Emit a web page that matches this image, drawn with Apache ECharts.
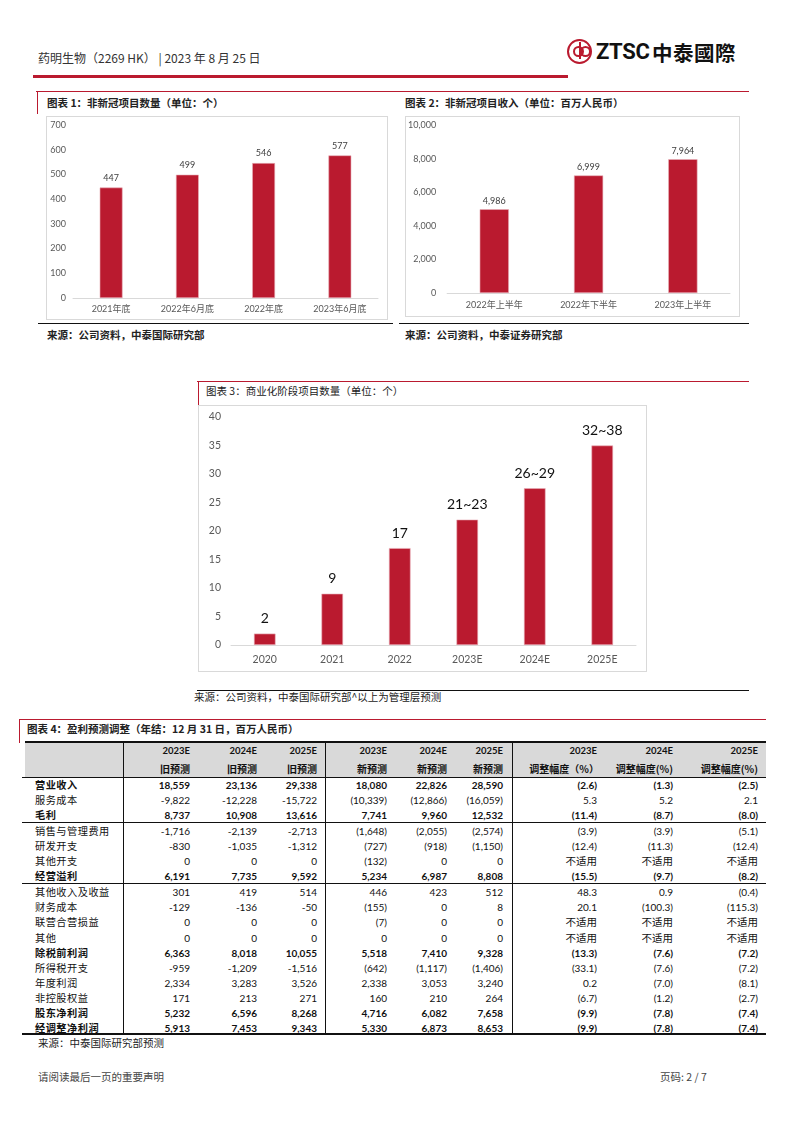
<!DOCTYPE html>
<html><head><meta charset="utf-8">
<script src="https://cdn.jsdelivr.net/npm/echarts@6/dist/echarts.min.js"></script>
<style>
body{margin:0;width:793px;height:1122px;position:relative;background:#fff;font-family:"Noto Sans CJK SC",sans-serif;overflow:hidden;color:#222}
.t{position:absolute;white-space:nowrap;line-height:1;transform:translateY(-50%)}
.r{position:absolute;white-space:nowrap;line-height:1;transform:translate(-100%,-50%)}
.ln{position:absolute}
.box{position:absolute;border:1px solid #d9d9d9;box-sizing:border-box}
.ch{position:absolute}
.ttl{font-size:10.5px;font-weight:700;color:#222}
.src{font-size:10.5px;font-weight:700;color:#222}
</style></head>
<body>
<div id="page"></div>
<script>
// ---------- data ----------
const chart1Categories = ['2021年底','2022年6月底','2022年底','2023年6月底'];
const chart1Values = [447, 499, 546, 577];
const chart1Ticks = {min:0, max:700, interval:100};

const chart2Categories = ['2022年上半年','2022年下半年','2023年上半年'];
const chart2Values = [4986, 6999, 7964];
const chart2Ticks = {min:0, max:10000, interval:2000};

const chart3Categories = ['2020','2021','2022','2023E','2024E','2025E'];
const chart3Values = [2, 9, 17, 22, 27.5, 35];
const chart3Labels = ['2','9','17','21~23','26~29','32~38'];
const chart3Ticks = {min:0, max:40, interval:5};

const tableYears = ['2023E','2024E','2025E','2023E','2024E','2025E','2023E','2024E','2025E'];
const tableSubHeads = ['旧预测','旧预测','旧预测','新预测','新预测','新预测','调整幅度（%）','调整幅度(%)','调整幅度(%)'];
const rowLabels = ['营业收入','服务成本','毛利','销售与管理费用','研发开支','其他开支','经营溢利','其他收入及收益','财务成本','联营合营损益','其他','除税前利润','所得税开支','年度利润','非控股权益','股东净利润','经调整净利润'];
const boldRows = [0,2,6,11,15,16];
const oldForecast = [
 ['18,559','23,136','29,338'],['-9,822','-12,228','-15,722'],['8,737','10,908','13,616'],
 ['-1,716','-2,139','-2,713'],['-830','-1,035','-1,312'],['0','0','0'],['6,191','7,735','9,592'],
 ['301','419','514'],['-129','-136','-50'],['0','0','0'],['0','0','0'],['6,363','8,018','10,055'],
 ['-959','-1,209','-1,516'],['2,334','3,283','3,526'],['171','213','271'],['5,232','6,596','8,268'],['5,913','7,453','9,343']];
const newForecast = [
 ['18,080','22,826','28,590'],['(10,339)','(12,866)','(16,059)'],['7,741','9,960','12,532'],
 ['(1,648)','(2,055)','(2,574)'],['(727)','(918)','(1,150)'],['(132)','0','0'],['5,234','6,987','8,808'],
 ['446','423','512'],['(155)','0','8'],['(7)','0','0'],['0','0','0'],['5,518','7,410','9,328'],
 ['(642)','(1,117)','(1,406)'],['2,338','3,053','3,240'],['160','210','264'],['4,716','6,082','7,658'],['5,330','6,873','8,653']];
const adjustment = [
 ['(2.6)','(1.3)','(2.5)'],['5.3','5.2','2.1'],['(11.4)','(8.7)','(8.0)'],
 ['(3.9)','(3.9)','(5.1)'],['(12.4)','(11.3)','(12.4)'],['不适用','不适用','不适用'],['(15.5)','(9.7)','(8.2)'],
 ['48.3','0.9','(0.4)'],['20.1','(100.3)','(115.3)'],['不适用','不适用','不适用'],['不适用','不适用','不适用'],['(13.3)','(7.6)','(7.2)'],
 ['(33.1)','(7.6)','(7.2)'],['0.2','(7.0)','(8.1)'],['(6.7)','(1.2)','(2.7)'],['(9.9)','(7.8)','(7.4)'],['(9.9)','(7.8)','(7.4)']];

// ---------- layout helpers ----------
const RED = '#BA1A2F';
const FF = 'Lato, "Noto Sans CJK SC", sans-serif';
const page = document.getElementById('page');
function el(cls, css, html){const d=document.createElement('div');d.className=cls;d.style.cssText=css;if(html!==undefined)d.innerHTML=html;page.appendChild(d);return d;}
function line(x,y,w,h,c){return el('ln',`left:${x}px;top:${y}px;width:${w}px;height:${h}px;background:${c}`);}

// header
el('t','left:38px;top:58px;font-size:12px;color:#333','药明生物（2269 HK）&nbsp;| 2023 年 8 月 25 日');
line(33,74.5,535,3,RED);
el('ln','left:567px;top:39px;width:21px;height:21px;border:2.5px solid '+RED+';border-radius:50%;box-sizing:content-box');
el('ln','left:573px;top:46px;width:7px;height:7px;border:2px solid '+RED+';border-radius:50%');
el('ln','left:580px;top:46px;width:7px;height:7px;border:2px solid '+RED+';border-radius:50%');
line(579,42,2,17,RED);
el('t','left:596px;top:52px;font-size:22px;font-weight:700;color:#111;font-family:Roboto,sans-serif;letter-spacing:-0.3px','ZTSC');
el('t','left:652px;top:52px;font-size:20.5px;font-weight:700;color:#111;letter-spacing:0.5px','中泰國際');

// chart 1 & 2 frame
line(36,90.5,713,1.2,RED); line(37,90.5,1.2,23,RED);
el('t ttl','left:47px;top:102.5px','图表 1：非新冠项目数量（单位：个）');
el('box','left:46px;top:116px;width:342px;height:204px');
line(38,322.5,355,1.5,'#111');
el('t src','left:47px;top:335px','来源：公司资料，中泰国际研究部');

el('t ttl','left:405px;top:102.5px','图表 2：非新冠项目收入（单位：百万人民币）');
el('box','left:405px;top:116px;width:335px;height:201px');
line(399,322.5,350,1.5,'#111');
el('t src','left:405px;top:335px','来源：公司资料，中泰证券研究部');

// chart 3 frame
line(197,381,552,1.2,RED); line(197.5,381,1.2,24,RED);
el('t ttl','left:206px;top:390.5px;font-weight:400','图表 3：商业化阶段项目数量（单位：个）');
el('box','left:198px;top:405px;width:449px;height:267px');
line(197,689.5,552,1.5,'#111');
el('t src','left:194px;top:697px;font-weight:400','来源：公司资料，中泰国际研究部^以上为管理层预测');

const c1 = el('ch','left:46px;top:116px;width:342px;height:204px');
const c2 = el('ch','left:405px;top:116px;width:335px;height:201px');
const c3 = el('ch','left:198px;top:405px;width:449px;height:267px');

function barChart(div, cats, vals, ticks, o){
  const c = echarts.init(div);
  c.setOption({
    animation:false,
    grid:{left:o.left,right:o.right,top:o.top,bottom:o.bottom,containLabel:false},
    xAxis:{type:'category',data:cats,axisLine:{lineStyle:{color:'#d9d9d9',width:1}},axisTick:{show:false},
      axisLabel:{color:'#595959',fontSize:o.fs,margin:o.xm,fontFamily:FF}},
    yAxis:{type:'value',min:ticks.min,max:ticks.max,interval:ticks.interval,splitLine:{show:false},axisLine:{show:false},axisTick:{show:false},
      axisLabel:{color:'#595959',fontSize:o.fs,margin:o.ym,fontFamily:FF,formatter:v=>v.toLocaleString('en-US')}},
    series:[{type:'bar',data:vals,barWidth:o.bw,itemStyle:{color:RED,borderColor:'#e9b3bc',borderWidth:0.6},
      label:{show:true,position:'top',distance:o.ld,fontSize:o.lfs,color:o.lc,fontFamily:FF,formatter:o.lfmt}}]
  });
}
barChart(c1, chart1Categories, chart1Values, chart1Ticks, {left:27,right:10,top:9,bottom:22,fs:9,xm:7,ym:7,bw:'30%',ld:5,lfs:9,lc:'#404040',
  lfmt:p=>p.value.toLocaleString('en-US')});
barChart(c2, chart2Categories, chart2Values, chart2Ticks, {left:39,right:10,top:9,bottom:24,fs:9,xm:8,ym:11,bw:'31%',ld:4,lfs:9,lc:'#404040',
  lfmt:p=>p.value.toLocaleString('en-US')});
barChart(c3, chart3Categories, chart3Values, chart3Ticks, {left:33,right:11,top:12,bottom:27,fs:10.5,xm:9,ym:10,bw:'32%',ld:8,lfs:14,lc:'#111',
  lfmt:p=>chart3Labels[p.dataIndex]});

// ---------- table ----------
line(19,718.5,747,1.2,RED); line(19,718.5,1.2,24,RED);
el('t ttl','left:27px;top:729px','图表 4：盈利预测调整（年结：12 月 31 日，百万人民币）');
el('ln','left:25px;top:742px;width:741px;height:35px;background:#d9d9d9');
line(25,741,741,2,'#111');
line(22,776.5,744,1.2,'#111');
line(22,822,744,1.2,'#111');
line(22,882.5,744,1.2,'#111');
line(22,1033,744,2.2,'#111');
[123,325,512].forEach(x=>line(x,742,1.2,292,'#111'));
const numRight = [190,257,317,387,447,503,597,673,758];
tableYears.forEach((y,i)=>el('r',`left:${numRight[i]}px;top:750.5px;font-size:9.5px;font-weight:700;font-family:${FF};color:#111`,y));
tableSubHeads.forEach((y,i)=>el('r',`left:${numRight[i]+(i===6?2:0)}px;top:769px;font-size:10px;font-weight:700;color:#111`,y));
rowLabels.forEach((lab,i)=>{
  const y = 785 + i*15.05 + (i>=3?1:0) + (i>=7?1:0);
  const b = boldRows.includes(i);
  el('t',`left:35px;top:${y}px;font-size:10.2px;letter-spacing:0.5px;color:#111;font-weight:${b?700:400}`,lab);
  const cells = oldForecast[i].concat(newForecast[i], adjustment[i]);
  cells.forEach((v,j)=>{
    const cjk = /[\u4e00-\u9fff]/.test(v);
    el('r',`left:${numRight[j]}px;top:${y}px;font-size:${cjk?10.5:10}px;font-family:${FF};color:#111;font-weight:${b&&!cjk?700:400}`,v);
  });
});
el('t','left:38px;top:1043px;font-size:10.5px;color:#222','来源：中泰国际研究部预测');

// footer
el('t','left:38px;top:1077px;font-size:10.5px;color:#444','请阅读最后一页的重要声明');
el('t','left:660px;top:1077px;font-size:10.5px;color:#444','页码: 2 / 7');
</script>
</body></html>
